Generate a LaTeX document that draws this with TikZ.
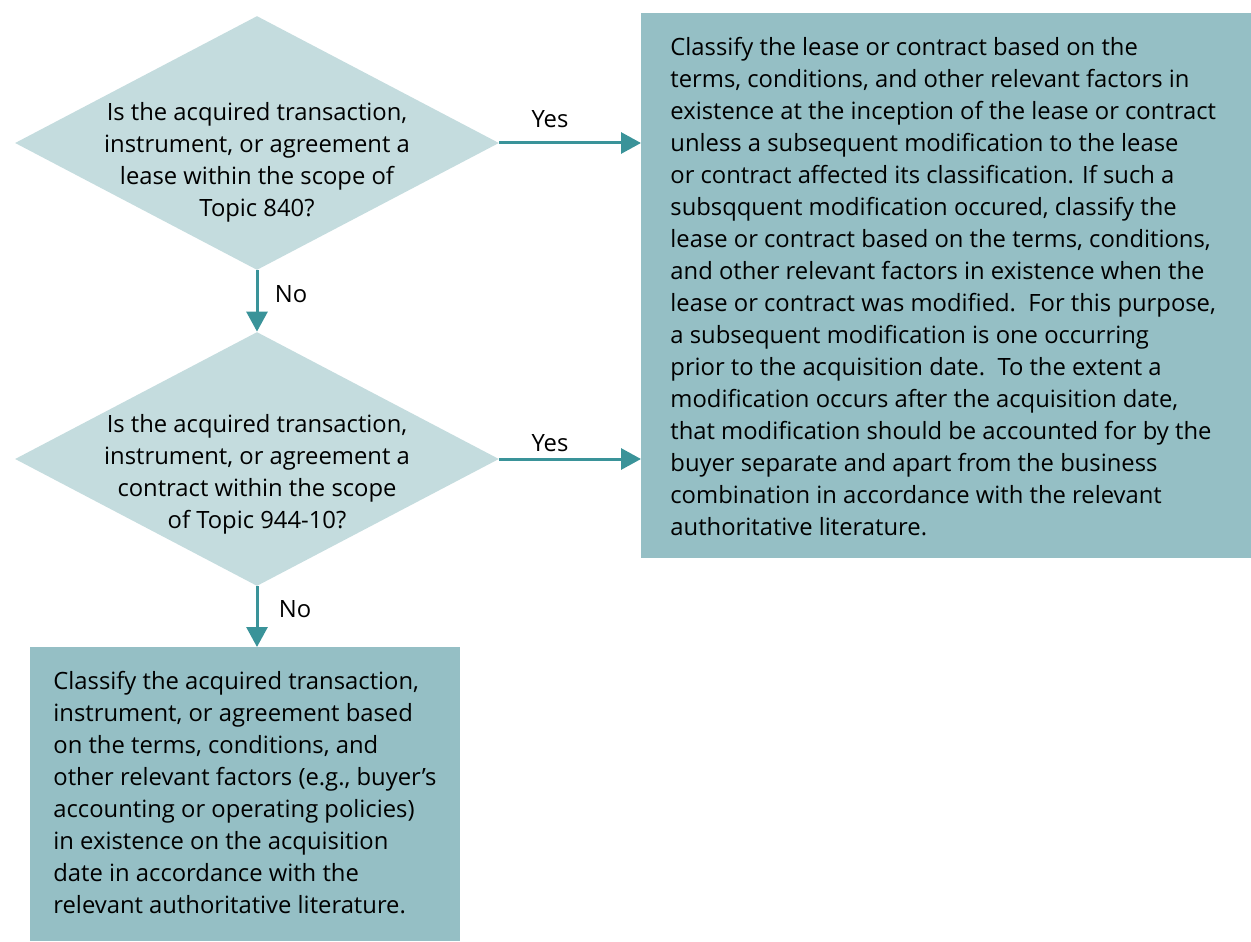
\documentclass[tikz,border=0pt]{standalone}
\usepackage{fontspec}
\setmainfont{Open Sans}
\usetikzlibrary{shapes.geometric,arrows.meta,positioning}
\definecolor{diamfill}{HTML}{C4DCDE}
\definecolor{boxfill}{HTML}{95BFC5}
\definecolor{flowcol}{HTML}{3A9399}
\begin{document}
\begin{tikzpicture}[x=0.5pt, y=-0.5pt, font=\fontsize{11.9}{16}\selectfont, line join=round, >={Triangle[length=10pt,width=10.5pt]},
  decision/.style={diamond, fill=diamfill, inner sep=0pt, minimum width=242pt, minimum height=127pt},
  outcome/.style={rectangle, fill=boxfill, inner sep=0pt, anchor=north west},
  txt/.style={inner sep=0pt},
  flow/.style={->, draw=flowcol, fill=flowcol, line width=1.5pt},
  lbl/.style={inner sep=0pt, anchor=base}]
\useasboundingbox (0,0) rectangle (1251,941);
% decisions
\node[decision] (q1) at (257,143) {};
\node[decision] (q2) at (257,459) {};
\node[txt, align=center] (q1t) at (257,162) {Is the acquired transaction,\\instrument, or agreement a\\lease within the scope of\\Topic 840?};
\node[txt, align=center] (q2t) at (257,474) {Is the acquired transaction,\\instrument, or agreement a\\contract within the scope\\of Topic 944-10?};
% outcomes
\node[outcome, minimum width=305pt, minimum height=272.5pt] (lease) at (641,13) {};
\node[outcome, minimum width=215pt, minimum height=147pt] (other) at (30,647) {};
\node[txt, align=left, anchor=north west] (leaset) at (670,37) {Classify the lease or contract based on the\\
terms, conditions, and other relevant factors in\\
existence at the inception of the lease or contract\\
unless a subsequent modification to the lease\\
or contract affected its classification. If such a\\
subsqquent modification occured, classify the\\
lease or contract based on the terms, conditions,\\
and other relevant factors in existence when the\\
lease or contract was modified.\ \ For this purpose,\\
a subsequent modification is one occurring\\
prior to the acquisition date.\ \ To the extent a\\
modification occurs after the acquisition date,\\
that modification should be accounted for by the\\
buyer separate and apart from the business\\
combination in accordance with the relevant\\
authoritative literature.};
\node[txt, align=left, anchor=north west] (othert) at (53,671) {Classify the acquired transaction,\\
instrument, or agreement based\\
on the terms, conditions, and\\
other relevant factors (e.g., buyer’s\\
accounting or operating policies)\\
in existence on the acquisition\\
date in accordance with the\\
relevant authoritative literature.};
% connectors
\draw[flow] (q1.east) -- (q1.east -| lease.west);
\draw[flow] (q2.east) -- (q2.east -| lease.west);
\draw[flow] (q1.south) -- (q2.north);
\draw[flow] (q2.south) -- (q2.south |- other.north);
\node[lbl] (yes1) at (550,128) {Yes};
\node[lbl] (yes2) at (550,451) {Yes};
\node[lbl] (no1) at (291,302) {No};
\node[lbl] (no2) at (295,617) {No};
\end{tikzpicture}
\end{document}
